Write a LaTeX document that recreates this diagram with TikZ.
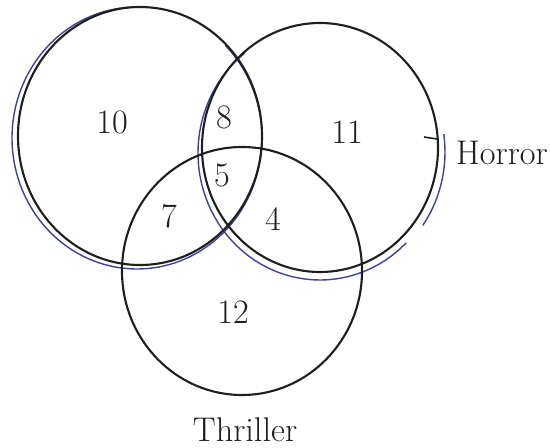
\documentclass[tikz,border=0pt]{standalone}
\usepackage{xcolor}
\definecolor{inkblack}{HTML}{1E1E1E}
\definecolor{penblue}{HTML}{3F438F}
\tikzset{
  setline/.style={line width=1.2pt, color=inkblack},
  trace/.style={line width=0.8pt, color=penblue},
  every node/.append style={font=\fontsize{19.5}{23}\selectfont, text=inkblack}
}

\begin{document}
\begin{tikzpicture}[x=0.02cm, y=-0.02cm]
\useasboundingbox (0,0) rectangle (551,448);
% pen tracing over the printed circles
\draw[trace] plot[smooth, domain=-45:275, samples=65] ({137+125*cos(\x)}, {138+131*sin(\x)});
\draw[trace] plot[smooth, domain=45:232, samples=40] ({320+122*cos(\x)}, {153+127*sin(\x)});
\draw[trace] plot[smooth, domain=-8:35, samples=12] ({322+123*cos(\x)}, {152+128*sin(\x)});
% the three sets
\draw[setline] (140,136) ellipse [x radius=122, y radius=129];
\draw[setline] (320,147.5) ellipse [x radius=118, y radius=124.5];
\draw[setline] (242,271) ellipse [x radius=120, y radius=124];
\draw[setline, line width=0.9pt] (424,137) -- (437,139);
% counts
\node (n10) at (112,122) {10};
\node (n8) at (224,117) {8};
\node (n11) at (347,132) {11};
\node (n5) at (222,175) {5};
\node (n7) at (169,216) {7};
\node (n4) at (273,219) {4};
\node (n12) at (233,312) {12};
\node (horror) at (502,153) {Horror};
\node (thriller) at (245,430) {Thriller};
\end{tikzpicture}
\end{document}
